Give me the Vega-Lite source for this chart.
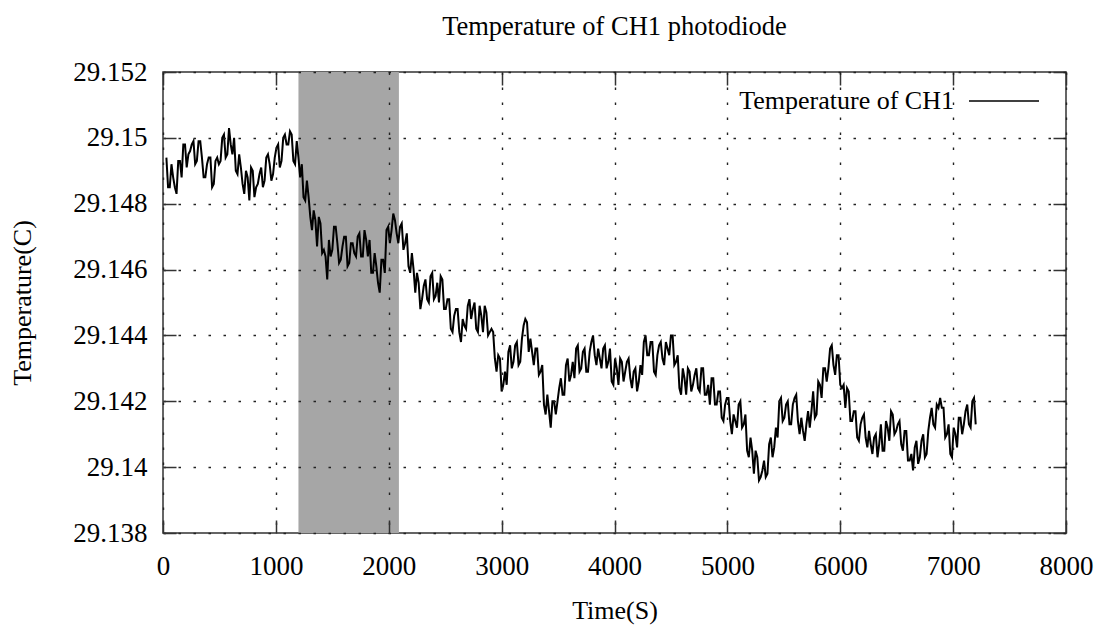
{
  "$schema": "https://vega.github.io/schema/vega-lite/v6.json",
  "width": 903,
  "height": 461,
  "autosize": "none",
  "padding": {"left": 163, "top": 72, "right": 37, "bottom": 99},
  "background": "white",
  "config": {
    "font": "Liberation Serif",
    "view": {"stroke": "#333", "strokeWidth": 1.5},
    "axis": {"labelColor": "#000", "titleColor": "#000", "labelFontSize": 27, "titleFontSize": 26, "titleFontWeight": "normal", "tickColor": "#333", "tickWidth": 1.5, "domain": false}
  },
  "title": {"text": "Temperature of CH1 photodiode", "fontSize": 26.5, "fontWeight": "normal", "color": "#000", "anchor": "middle", "offset": 18, "font": "Liberation Serif"},
  "datasets": {
    "band": [{"start": 1200, "end": 2090}],
    "temp": [
      {"t":30,"v":29.1494},{"t":60,"v":29.1485},{"t":90,"v":29.1488},{"t":120,"v":29.1483},{"t":150,"v":29.1493},{"t":180,"v":29.1498},{"t":210,"v":29.1491},{"t":240,"v":29.1496},{"t":270,"v":29.1499},{"t":300,"v":29.1493},
      {"t":330,"v":29.1499},{"t":360,"v":29.1488},{"t":390,"v":29.1492},{"t":420,"v":29.1494},{"t":450,"v":29.1486},{"t":480,"v":29.1494},{"t":510,"v":29.1493},{"t":540,"v":29.1501},{"t":570,"v":29.1495},{"t":600,"v":29.1498},
      {"t":630,"v":29.15},{"t":660,"v":29.1489},{"t":690,"v":29.1491},{"t":720,"v":29.1483},{"t":750,"v":29.1488},{"t":780,"v":29.1491},{"t":810,"v":29.1482},{"t":840,"v":29.1486},{"t":870,"v":29.1491},{"t":900,"v":29.1487},
      {"t":930,"v":29.1495},{"t":960,"v":29.1487},{"t":990,"v":29.1494},{"t":1020,"v":29.1498},{"t":1050,"v":29.1493},{"t":1080,"v":29.1501},{"t":1110,"v":29.1498},{"t":1140,"v":29.1501},{"t":1170,"v":29.1492},{"t":1200,"v":29.1494},
      {"t":1230,"v":29.1492},{"t":1260,"v":29.1481},{"t":1290,"v":29.1482},{"t":1320,"v":29.1472},{"t":1350,"v":29.1475},{"t":1380,"v":29.1476},{"t":1410,"v":29.1465},{"t":1440,"v":29.1464},{"t":1470,"v":29.1469},{"t":1500,"v":29.1466},
      {"t":1530,"v":29.1473},{"t":1560,"v":29.1462},{"t":1590,"v":29.1467},{"t":1620,"v":29.147},{"t":1650,"v":29.1462},{"t":1680,"v":29.1468},{"t":1710,"v":29.1464},{"t":1740,"v":29.1471},{"t":1770,"v":29.1464},{"t":1800,"v":29.1469},
      {"t":1830,"v":29.1469},{"t":1860,"v":29.1459},{"t":1890,"v":29.1461},{"t":1920,"v":29.1453},{"t":1950,"v":29.1463},{"t":1980,"v":29.1472},{"t":2010,"v":29.1468},{"t":2040,"v":29.1477},{"t":2070,"v":29.1471},{"t":2100,"v":29.1473},
      {"t":2130,"v":29.1466},{"t":2160,"v":29.1471},{"t":2190,"v":29.1459},{"t":2220,"v":29.146},{"t":2250,"v":29.1459},{"t":2280,"v":29.1448},{"t":2310,"v":29.1455},{"t":2340,"v":29.1451},{"t":2370,"v":29.1458},{"t":2400,"v":29.1451},
      {"t":2430,"v":29.1456},{"t":2460,"v":29.1458},{"t":2490,"v":29.1448},{"t":2520,"v":29.1451},{"t":2550,"v":29.1442},{"t":2580,"v":29.1446},{"t":2610,"v":29.1448},{"t":2640,"v":29.1438},{"t":2670,"v":29.1443},{"t":2700,"v":29.1449},
      {"t":2730,"v":29.1445},{"t":2760,"v":29.145},{"t":2790,"v":29.1441},{"t":2820,"v":29.1446},{"t":2850,"v":29.1449},{"t":2880,"v":29.144},{"t":2910,"v":29.1442},{"t":2940,"v":29.1433},{"t":2970,"v":29.1434},{"t":3000,"v":29.1423},
      {"t":3030,"v":29.1429},{"t":3060,"v":29.1435},{"t":3090,"v":29.143},{"t":3120,"v":29.1437},{"t":3150,"v":29.1431},{"t":3180,"v":29.1439},{"t":3210,"v":29.1445},{"t":3240,"v":29.1435},{"t":3270,"v":29.1435},{"t":3300,"v":29.1436},
      {"t":3330,"v":29.1428},{"t":3360,"v":29.1431},{"t":3390,"v":29.1416},{"t":3420,"v":29.1417},{"t":3450,"v":29.142},{"t":3480,"v":29.1416},{"t":3510,"v":29.1424},{"t":3540,"v":29.1422},{"t":3570,"v":29.1431},{"t":3600,"v":29.1426},
      {"t":3630,"v":29.1432},{"t":3660,"v":29.1436},{"t":3690,"v":29.1429},{"t":3720,"v":29.1435},{"t":3750,"v":29.1429},{"t":3780,"v":29.1435},{"t":3810,"v":29.144},{"t":3840,"v":29.1431},{"t":3870,"v":29.1433},{"t":3900,"v":29.1436},
      {"t":3930,"v":29.143},{"t":3960,"v":29.1436},{"t":3990,"v":29.1425},{"t":4020,"v":29.143},{"t":4050,"v":29.1433},{"t":4080,"v":29.1426},{"t":4110,"v":29.1432},{"t":4140,"v":29.1427},{"t":4170,"v":29.1429},{"t":4200,"v":29.1423},
      {"t":4230,"v":29.1431},{"t":4260,"v":29.1438},{"t":4290,"v":29.1434},{"t":4320,"v":29.1438},{"t":4350,"v":29.1429},{"t":4380,"v":29.1434},{"t":4410,"v":29.1438},{"t":4440,"v":29.1431},{"t":4470,"v":29.1436},{"t":4500,"v":29.144},
      {"t":4530,"v":29.1431},{"t":4560,"v":29.1434},{"t":4590,"v":29.1422},{"t":4620,"v":29.1427},{"t":4650,"v":29.143},{"t":4680,"v":29.1423},{"t":4710,"v":29.1428},{"t":4740,"v":29.1424},{"t":4770,"v":29.143},{"t":4800,"v":29.1422},
      {"t":4830,"v":29.1425},{"t":4860,"v":29.1427},{"t":4890,"v":29.1419},{"t":4920,"v":29.1423},{"t":4950,"v":29.1415},{"t":4980,"v":29.1419},{"t":5010,"v":29.1421},{"t":5040,"v":29.141},{"t":5070,"v":29.1414},{"t":5100,"v":29.1419},
      {"t":5130,"v":29.1412},{"t":5160,"v":29.1416},{"t":5190,"v":29.1403},{"t":5220,"v":29.1405},{"t":5250,"v":29.1405},{"t":5280,"v":29.1396},{"t":5310,"v":29.1399},{"t":5340,"v":29.1397},{"t":5370,"v":29.1407},{"t":5400,"v":29.1403},
      {"t":5430,"v":29.1412},{"t":5460,"v":29.142},{"t":5490,"v":29.1414},{"t":5520,"v":29.1419},{"t":5550,"v":29.1413},{"t":5580,"v":29.1419},{"t":5610,"v":29.1422},{"t":5640,"v":29.141},{"t":5670,"v":29.1411},{"t":5700,"v":29.1413},
      {"t":5730,"v":29.1412},{"t":5760,"v":29.1423},{"t":5790,"v":29.1416},{"t":5820,"v":29.1425},{"t":5850,"v":29.143},{"t":5880,"v":29.1426},{"t":5910,"v":29.1436},{"t":5940,"v":29.1431},{"t":5970,"v":29.1434},{"t":6000,"v":29.1425},
      {"t":6030,"v":29.1425},{"t":6060,"v":29.1424},{"t":6090,"v":29.1414},{"t":6120,"v":29.1417},{"t":6150,"v":29.1409},{"t":6180,"v":29.1413},{"t":6210,"v":29.1416},{"t":6240,"v":29.1406},{"t":6270,"v":29.1407},{"t":6300,"v":29.1409},
      {"t":6330,"v":29.1403},{"t":6360,"v":29.1413},{"t":6390,"v":29.1405},{"t":6420,"v":29.1412},{"t":6450,"v":29.1417},{"t":6480,"v":29.141},{"t":6510,"v":29.1413},{"t":6540,"v":29.1407},{"t":6570,"v":29.1411},{"t":6600,"v":29.1402},
      {"t":6630,"v":29.1404},{"t":6660,"v":29.1406},{"t":6690,"v":29.1401},{"t":6720,"v":29.1408},{"t":6750,"v":29.1403},{"t":6780,"v":29.1411},{"t":6810,"v":29.1418},{"t":6840,"v":29.1412},{"t":6870,"v":29.1418},{"t":6900,"v":29.1418},
      {"t":6930,"v":29.1409},{"t":6960,"v":29.1413},{"t":6990,"v":29.1403},{"t":7020,"v":29.141},{"t":7050,"v":29.1415},{"t":7080,"v":29.141},{"t":7110,"v":29.1417},{"t":7140,"v":29.1413},{"t":7170,"v":29.142},{"t":7200,"v":29.1413},
      {"t":45,"v":29.1485},{"t":75,"v":29.1492},{"t":105,"v":29.1485},{"t":135,"v":29.1493},{"t":165,"v":29.1488},{"t":195,"v":29.1498},{"t":225,"v":29.1495},{"t":255,"v":29.1498},{"t":285,"v":29.1492},{"t":315,"v":29.1499},
      {"t":345,"v":29.1494},{"t":375,"v":29.1488},{"t":405,"v":29.1494},{"t":435,"v":29.1485},{"t":465,"v":29.1493},{"t":495,"v":29.1492},{"t":525,"v":29.15},{"t":555,"v":29.1494},{"t":585,"v":29.1503},{"t":615,"v":29.1495},
      {"t":645,"v":29.149},{"t":675,"v":29.1495},{"t":705,"v":29.1486},{"t":735,"v":29.149},{"t":765,"v":29.1481},{"t":795,"v":29.149},{"t":825,"v":29.1485},{"t":855,"v":29.1489},{"t":885,"v":29.1485},{"t":915,"v":29.1494},
      {"t":945,"v":29.1492},{"t":975,"v":29.1489},{"t":1005,"v":29.1497},{"t":1035,"v":29.1491},{"t":1065,"v":29.15},{"t":1095,"v":29.1498},{"t":1125,"v":29.1502},{"t":1155,"v":29.1493},{"t":1185,"v":29.1499},{"t":1215,"v":29.1488},
      {"t":1245,"v":29.1482},{"t":1275,"v":29.1487},{"t":1305,"v":29.1476},{"t":1335,"v":29.1478},{"t":1365,"v":29.1467},{"t":1395,"v":29.1474},{"t":1425,"v":29.1466},{"t":1455,"v":29.1457},{"t":1485,"v":29.1464},{"t":1515,"v":29.1473},
      {"t":1545,"v":29.1468},{"t":1575,"v":29.1463},{"t":1605,"v":29.147},{"t":1635,"v":29.1461},{"t":1665,"v":29.1468},{"t":1695,"v":29.1465},{"t":1725,"v":29.147},{"t":1755,"v":29.1464},{"t":1785,"v":29.1472},{"t":1815,"v":29.1464},
      {"t":1845,"v":29.1459},{"t":1875,"v":29.1465},{"t":1905,"v":29.1456},{"t":1935,"v":29.1463},{"t":1965,"v":29.1459},{"t":1995,"v":29.1473},{"t":2025,"v":29.1472},{"t":2055,"v":29.1475},{"t":2085,"v":29.1468},{"t":2115,"v":29.1474},
      {"t":2145,"v":29.1468},{"t":2175,"v":29.1461},{"t":2205,"v":29.1465},{"t":2235,"v":29.1453},{"t":2265,"v":29.1456},{"t":2295,"v":29.1451},{"t":2325,"v":29.1457},{"t":2355,"v":29.145},{"t":2385,"v":29.1459},{"t":2415,"v":29.1452},
      {"t":2445,"v":29.145},{"t":2475,"v":29.1457},{"t":2505,"v":29.1448},{"t":2535,"v":29.1451},{"t":2565,"v":29.1441},{"t":2595,"v":29.1448},{"t":2625,"v":29.1441},{"t":2655,"v":29.1445},{"t":2685,"v":29.1442},{"t":2715,"v":29.1451},
      {"t":2745,"v":29.1448},{"t":2775,"v":29.1442},{"t":2805,"v":29.1449},{"t":2835,"v":29.1441},{"t":2865,"v":29.1447},{"t":2895,"v":29.1441},{"t":2925,"v":29.1441},{"t":2955,"v":29.1429},{"t":2985,"v":29.1433},{"t":3015,"v":29.1425},
      {"t":3045,"v":29.1425},{"t":3075,"v":29.1437},{"t":3105,"v":29.1432},{"t":3135,"v":29.1438},{"t":3165,"v":29.1432},{"t":3195,"v":29.1443},{"t":3225,"v":29.1444},{"t":3255,"v":29.1439},{"t":3285,"v":29.1431},{"t":3315,"v":29.1436},
      {"t":3345,"v":29.1429},{"t":3375,"v":29.1419},{"t":3405,"v":29.1422},{"t":3435,"v":29.1412},{"t":3465,"v":29.142},{"t":3495,"v":29.142},{"t":3525,"v":29.1427},{"t":3555,"v":29.1422},{"t":3585,"v":29.1433},{"t":3615,"v":29.1428},
      {"t":3645,"v":29.1427},{"t":3675,"v":29.1437},{"t":3705,"v":29.143},{"t":3735,"v":29.1436},{"t":3765,"v":29.1429},{"t":3795,"v":29.1438},{"t":3825,"v":29.1434},{"t":3855,"v":29.1436},{"t":3885,"v":29.143},{"t":3915,"v":29.1437},
      {"t":3945,"v":29.1432},{"t":3975,"v":29.1426},{"t":4005,"v":29.1433},{"t":4035,"v":29.1425},{"t":4065,"v":29.1432},{"t":4095,"v":29.1429},{"t":4125,"v":29.1433},{"t":4155,"v":29.1424},{"t":4185,"v":29.143},{"t":4215,"v":29.1426},
      {"t":4245,"v":29.1428},{"t":4275,"v":29.144},{"t":4305,"v":29.1434},{"t":4335,"v":29.1438},{"t":4365,"v":29.1428},{"t":4395,"v":29.1437},{"t":4425,"v":29.1433},{"t":4455,"v":29.1438},{"t":4485,"v":29.1434},{"t":4515,"v":29.144},
      {"t":4545,"v":29.1432},{"t":4575,"v":29.1424},{"t":4605,"v":29.143},{"t":4635,"v":29.1422},{"t":4665,"v":29.1429},{"t":4695,"v":29.1425},{"t":4725,"v":29.143},{"t":4755,"v":29.1423},{"t":4785,"v":29.143},{"t":4815,"v":29.1422},
      {"t":4845,"v":29.1419},{"t":4875,"v":29.1427},{"t":4905,"v":29.1419},{"t":4935,"v":29.1423},{"t":4965,"v":29.1414},{"t":4995,"v":29.1421},{"t":5025,"v":29.1414},{"t":5055,"v":29.1416},{"t":5085,"v":29.1412},{"t":5115,"v":29.142},
      {"t":5145,"v":29.1413},{"t":5175,"v":29.1405},{"t":5205,"v":29.1409},{"t":5235,"v":29.1398},{"t":5265,"v":29.1403},{"t":5295,"v":29.1397},{"t":5325,"v":29.1402},{"t":5355,"v":29.1398},{"t":5385,"v":29.1409},{"t":5415,"v":29.1406},
      {"t":5445,"v":29.1409},{"t":5475,"v":29.1421},{"t":5505,"v":29.1415},{"t":5535,"v":29.142},{"t":5565,"v":29.1413},{"t":5595,"v":29.1421},{"t":5625,"v":29.1414},{"t":5655,"v":29.1415},{"t":5685,"v":29.1408},{"t":5715,"v":29.1417},
      {"t":5745,"v":29.1417},{"t":5775,"v":29.1415},{"t":5805,"v":29.1426},{"t":5835,"v":29.1421},{"t":5865,"v":29.143},{"t":5895,"v":29.143},{"t":5925,"v":29.1437},{"t":5955,"v":29.1428},{"t":5985,"v":29.1434},{"t":6015,"v":29.1424},
      {"t":6045,"v":29.1418},{"t":6075,"v":29.1423},{"t":6105,"v":29.1414},{"t":6135,"v":29.1417},{"t":6165,"v":29.1408},{"t":6195,"v":29.1415},{"t":6225,"v":29.1409},{"t":6255,"v":29.1411},{"t":6285,"v":29.1404},{"t":6315,"v":29.141},
      {"t":6345,"v":29.1407},{"t":6375,"v":29.1405},{"t":6405,"v":29.1414},{"t":6435,"v":29.1408},{"t":6465,"v":29.1416},{"t":6495,"v":29.1411},{"t":6525,"v":29.1414},{"t":6555,"v":29.1405},{"t":6585,"v":29.1411},{"t":6615,"v":29.1402},
      {"t":6645,"v":29.1399},{"t":6675,"v":29.1408},{"t":6705,"v":29.1403},{"t":6735,"v":29.141},{"t":6765,"v":29.1404},{"t":6795,"v":29.1415},{"t":6825,"v":29.1413},{"t":6855,"v":29.1419},{"t":6885,"v":29.1421},{"t":6915,"v":29.1418},
      {"t":6945,"v":29.141},{"t":6975,"v":29.1404},{"t":7005,"v":29.1412},{"t":7035,"v":29.1406},{"t":7065,"v":29.1415},{"t":7095,"v":29.1413},{"t":7125,"v":29.1419},{"t":7155,"v":29.1412},{"t":7185,"v":29.1421}
    ]
  },
  "resolve": {"axis": {"x": "independent", "y": "independent"}},
  "layer": [
    {
      "data": {"name": "band"},
      "mark": {"type": "rect", "color": "#a6a6a6"},
      "encoding": {
        "x": {"field": "start", "type": "quantitative", "scale": {"domain": [0, 8000], "nice": false, "zero": false}, "axis": null},
        "x2": {"field": "end"}
      }
    },
    {
      "data": {"name": "temp"},
      "mark": {"type": "line", "color": "#000", "strokeWidth": 2},
      "encoding": {
        "x": {"field": "t", "type": "quantitative", "scale": {"domain": [0, 8000], "nice": false, "zero": false},
          "axis": {"orient": "bottom", "values": [0,1000,2000,3000,4000,5000,6000,7000,8000], "format": "d", "title": "Time(S)", "tickSize": -13, "labelPadding": 33, "titlePadding": 18, "grid": true, "gridColor": "#222", "gridDash": [2.5, 12.5], "gridWidth": 1.4, "zindex": 1, "labelFlush": false}},
        "y": {"field": "v", "type": "quantitative", "scale": {"domain": [29.138, 29.152], "nice": false, "zero": false},
          "axis": {"orient": "left", "values": [29.138,29.14,29.142,29.144,29.146,29.148,29.15,29.152], "format": ".3~f", "title": "Temperature(C)", "tickSize": -13, "labelPadding": 29, "titlePadding": 37, "grid": true, "gridColor": "#222", "gridDash": [2.5, 12.5], "gridWidth": 1.4, "zindex": 1}},
        "stroke": {"datum": "Temperature of CH1", "type": "nominal", "scale": {"range": ["#000"]},
          "legend": {"title": null, "orient": "none", "legendX": 805, "legendY": -7, "symbolType": "stroke", "symbolSize": 4900, "symbolStrokeWidth": 1.5, "symbolStrokeColor": "#000", "labelFontSize": 26, "labelColor": "#000", "labelAlign": "right", "labelOffset": -86, "labelLimit": 0, "labelFont": "Liberation Serif"}}
      }
    },
    {
      "data": {"name": "temp"},
      "mark": {"type": "line", "opacity": 0},
      "encoding": {
        "x": {"field": "t", "type": "quantitative", "scale": {"domain": [0, 8000], "nice": false, "zero": false},
          "axis": {"orient": "top", "values": [0,1000,2000,3000,4000,5000,6000,7000,8000], "labels": false, "title": null, "tickSize": -13, "grid": false}},
        "y": {"field": "v", "type": "quantitative", "scale": {"domain": [29.138, 29.152], "nice": false, "zero": false},
          "axis": {"orient": "right", "values": [29.138,29.14,29.142,29.144,29.146,29.148,29.15,29.152], "labels": false, "title": null, "tickSize": -13, "grid": false}}
      }
    }
  ]
}
